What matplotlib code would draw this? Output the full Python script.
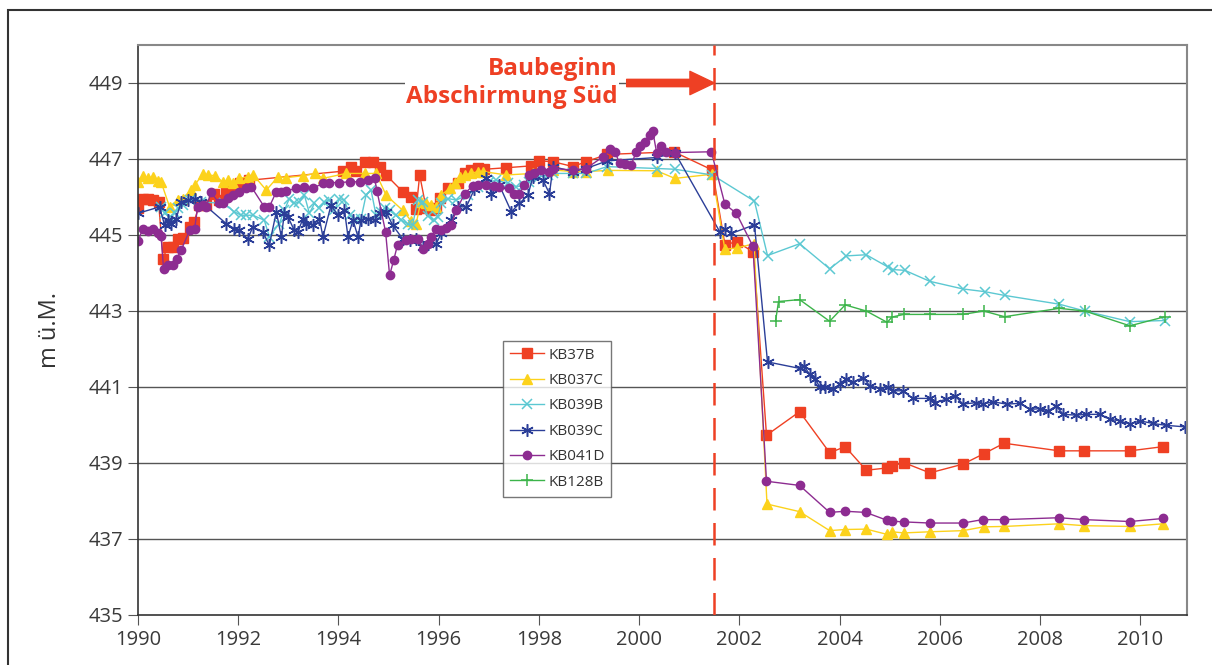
import matplotlib
matplotlib.use("Agg")
import matplotlib.pyplot as plt
from matplotlib.patches import Rectangle

plt.rcParams['font.family'] = ['Open Sans', 'DejaVu Sans']

# --- data (decimal year, m ü.M.) ---
kb37b_t = [1990.00, 1990.09, 1990.19, 1990.29, 1990.41, 1990.50, 1990.59, 1990.69, 1990.79, 1990.89,
           1991.03, 1991.12, 1991.22, 1991.35, 1991.52, 1991.62, 1991.76, 1991.87, 1992.04, 1992.22,
           1994.09, 1994.25, 1994.35, 1994.52, 1994.68, 1994.82, 1994.95, 1995.28, 1995.45, 1995.55,
           1995.62, 1995.75, 1995.85, 1995.95, 1996.02, 1996.18, 1996.38, 1996.52, 1996.65, 1996.78,
           1996.91, 1997.35, 1997.85, 1998.01, 1998.28, 1998.68, 1998.94, 1999.36, 2000.69, 2001.46,
           2001.71, 2001.95, 2002.28, 2002.54, 2003.20, 2003.80, 2004.11, 2004.53, 2004.95, 2005.04,
           2005.28, 2005.80, 2006.46, 2006.87, 2007.28, 2008.38, 2008.88, 2009.79, 2010.45]
kb37b_v = [445.70, 445.96, 445.94, 445.92, 445.88, 444.38, 444.69, 444.69, 444.90, 444.93,
           445.22, 445.35, 445.78, 445.78, 446.09, 445.92, 446.12, 446.16, 446.37, 446.44,
           446.68, 446.80, 446.68, 446.91, 446.93, 446.80, 446.58, 446.14, 446.01, 445.68,
           446.58, 445.70, 445.65, 445.70, 445.98, 446.23, 446.36, 446.62, 446.71, 446.77,
           446.73, 446.77, 446.82, 446.95, 446.93, 446.80, 446.93, 447.12, 447.19, 446.71,
           444.75, 444.82, 444.55, 439.73, 440.35, 439.27, 439.43, 438.81, 438.87, 438.92,
           439.01, 438.74, 438.97, 439.24, 439.52, 439.32, 439.32, 439.32, 439.43]

kb037c_t = [1990.00, 1990.09, 1990.19, 1990.29, 1990.39, 1990.46, 1990.63, 1990.79, 1990.89, 1991.06,
            1991.13, 1991.29, 1991.39, 1991.54, 1991.69, 1991.79, 1991.89, 1992.02, 1992.19, 1992.30,
            1992.56, 1992.79, 1992.96, 1993.29, 1993.54, 1993.69, 1994.15, 1994.52, 1994.75, 1994.95,
            1995.28, 1995.45, 1995.55, 1995.64, 1995.75, 1995.85, 1995.95, 1996.05, 1996.22, 1996.32,
            1996.42, 1996.52, 1996.65, 1996.78, 1996.88, 1997.35, 1997.88, 1998.28, 1998.68, 1998.94,
            1999.38, 2000.35, 2000.71, 2001.46, 2001.71, 2001.95, 2002.29, 2002.55, 2003.20, 2003.80,
            2004.11, 2004.53, 2004.95, 2005.04, 2005.28, 2005.80, 2006.46, 2006.87, 2007.28, 2008.38,
            2008.88, 2009.79, 2010.45]
kb037c_v = [446.40, 446.56, 446.49, 446.53, 446.42, 446.40, 445.74, 445.92, 445.96, 446.18,
            446.31, 446.60, 446.58, 446.56, 446.40, 446.44, 446.36, 446.49, 446.53, 446.58,
            446.18, 446.53, 446.51, 446.56, 446.62, 446.49, 446.62, 446.62, 446.62, 446.05,
            445.65, 445.37, 445.30, 445.86, 445.83, 445.78, 445.74, 446.05, 446.23, 446.36,
            446.52, 446.58, 446.62, 446.67, 446.67, 446.58, 446.62, 446.71, 446.67, 446.67,
            446.70, 446.69, 446.49, 446.60, 444.62, 444.66, 444.77, 437.92, 437.72, 437.22,
            437.25, 437.26, 437.12, 437.19, 437.16, 437.19, 437.22, 437.32, 437.33, 437.40,
            437.35, 437.33, 437.40]

kb039b_t = [1990.45, 1990.53, 1990.63, 1990.73, 1990.79, 1990.89, 1991.03, 1991.26, 1991.72, 1991.92,
            1992.06, 1992.16, 1992.29, 1992.52, 1992.62, 1992.82, 1992.92, 1993.02, 1993.12, 1993.22,
            1993.32, 1993.42, 1993.52, 1993.62, 1993.72, 1993.82, 1993.92, 1994.02, 1994.12, 1994.22,
            1994.32, 1994.45, 1994.55, 1994.65, 1994.75, 1994.85, 1994.92, 1995.02, 1995.15, 1995.25,
            1995.38, 1995.48, 1995.58, 1995.68, 1995.78, 1995.90, 1995.98, 1996.05, 1996.18, 1996.35,
            1996.58, 1996.78, 1997.01, 1997.15, 1997.38, 1997.55, 1997.71, 1997.81, 1998.01, 1998.18,
            1998.28, 1998.68, 1998.94, 1999.36, 2000.36, 2000.71, 2001.46, 2002.30, 2002.56, 2003.20,
            2003.80, 2004.13, 2004.53, 2004.96, 2005.06, 2005.30, 2005.80, 2006.46, 2006.89, 2007.29,
            2008.38, 2008.89, 2009.79, 2010.49]
kb039b_v = [445.75, 445.57, 445.48, 445.57, 445.70, 445.78, 445.92, 445.87, 445.83, 445.61,
            445.52, 445.52, 445.52, 445.39, 444.96, 445.30, 445.65, 445.96, 445.83, 445.87,
            446.05, 445.57, 445.83, 445.70, 445.87, 445.92, 445.65, 445.96, 445.92, 445.52,
            445.43, 445.43, 446.05, 446.18, 445.52, 445.61, 445.70, 445.65, 445.52, 445.39,
            445.30, 445.26, 445.92, 445.87, 445.50, 445.40, 445.48, 445.83, 445.96, 445.92,
            446.05, 446.27, 446.40, 446.44, 446.36, 446.27, 446.31, 446.40, 446.53, 446.58,
            446.62, 446.62, 446.62, 446.80, 446.75, 446.73, 446.58, 445.89, 444.46, 444.77,
            444.11, 444.45, 444.48, 444.16, 444.09, 444.07, 443.78, 443.58, 443.51, 443.41,
            443.18, 443.00, 442.72, 442.75]

kb039c_t = [1990.00, 1990.43, 1990.53, 1990.59, 1990.66, 1990.76, 1990.86, 1990.99, 1991.13, 1991.26,
            1991.76, 1991.92, 1992.02, 1992.19, 1992.29, 1992.49, 1992.62, 1992.76, 1992.86, 1992.92,
            1992.99, 1993.12, 1993.19, 1993.29, 1993.36, 1993.49, 1993.62, 1993.69, 1993.85, 1993.99,
            1994.12, 1994.19, 1994.29, 1994.39, 1994.45, 1994.58, 1994.72, 1994.82, 1994.95, 1995.08,
            1995.28, 1995.42, 1995.55, 1995.68, 1995.78, 1995.95, 1996.05, 1996.25, 1996.38, 1996.55,
            1996.71, 1996.95, 1997.05, 1997.21, 1997.45, 1997.61, 1997.78, 1997.88, 1998.08, 1998.21,
            1998.28, 1998.68, 1998.94, 1999.36, 2000.36, 2000.71, 2001.61, 2001.71, 2001.84, 2002.30,
            2002.56, 2003.20, 2003.28, 2003.40, 2003.51, 2003.60, 2003.70, 2003.87, 2004.00, 2004.13,
            2004.26, 2004.47, 2004.60, 2004.80, 2004.96, 2005.06, 2005.26, 2005.46, 2005.80, 2005.90,
            2006.13, 2006.30, 2006.46, 2006.73, 2006.86, 2007.06, 2007.33, 2007.60, 2007.79, 2007.99,
            2008.16, 2008.32, 2008.46, 2008.72, 2008.92, 2009.19, 2009.39, 2009.59, 2009.79, 2009.99,
            2010.25, 2010.52, 2010.90]
kb039c_v = [445.57, 445.74, 445.26, 445.39, 445.30, 445.43, 445.87, 445.92, 445.96, 445.87,
            445.30, 445.17, 445.12, 444.90, 445.21, 445.08, 444.73, 445.61, 444.95, 445.57,
            445.48, 445.12, 445.08, 445.43, 445.30, 445.26, 445.43, 444.95, 445.78, 445.52,
            445.65, 444.95, 445.39, 444.95, 445.39, 445.43, 445.39, 445.57, 445.61, 445.26,
            444.90, 444.86, 444.90, 444.69, 444.77, 444.77, 445.04, 445.39, 445.74, 445.74,
            446.20, 446.49, 446.09, 446.31, 445.61, 445.83, 446.05, 446.53, 446.44, 446.09,
            446.80, 446.67, 446.75, 446.95, 447.04, 447.17, 445.08, 445.15, 445.04, 445.27,
            441.66, 441.49, 441.56, 441.34, 441.21, 441.01, 440.99, 440.94, 441.08, 441.21,
            441.12, 441.25, 441.03, 440.96, 441.01, 440.90, 440.90, 440.70, 440.70, 440.59,
            440.68, 440.77, 440.55, 440.59, 440.55, 440.61, 440.55, 440.57, 440.41, 440.43,
            440.37, 440.50, 440.28, 440.26, 440.28, 440.28, 440.15, 440.11, 440.02, 440.11,
            440.04, 439.99, 439.95]

kb041d_t = [1990.00, 1990.09, 1990.19, 1990.29, 1990.39, 1990.46, 1990.51, 1990.59, 1990.69, 1990.77,
            1990.86, 1991.03, 1991.13, 1991.19, 1991.29, 1991.36, 1991.46, 1991.62, 1991.69, 1991.79,
            1991.89, 1992.02, 1992.16, 1992.26, 1992.52, 1992.62, 1992.76, 1992.86, 1992.96, 1993.16,
            1993.32, 1993.49, 1993.69, 1993.82, 1994.02, 1994.22, 1994.42, 1994.58, 1994.72, 1994.77,
            1994.94, 1995.02, 1995.10, 1995.18, 1995.35, 1995.45, 1995.58, 1995.68, 1995.78, 1995.85,
            1995.95, 1996.05, 1996.15, 1996.25, 1996.35, 1996.52, 1996.68, 1996.78, 1996.95, 1997.11,
            1997.21, 1997.41, 1997.51, 1997.61, 1997.71, 1997.81, 1997.91, 1998.05, 1998.21, 1998.28,
            1998.68, 1998.94, 1999.28, 1999.41, 1999.51, 1999.61, 1999.71, 1999.84, 1999.94, 2000.01,
            2000.11, 2000.21, 2000.27, 2000.35, 2000.44, 2000.54, 2000.71, 2001.44, 2001.71, 2001.94,
            2002.27, 2002.54, 2003.20, 2003.80, 2004.11, 2004.52, 2004.95, 2005.04, 2005.28, 2005.80,
            2006.46, 2006.85, 2007.28, 2008.38, 2008.88, 2009.79, 2010.45]
kb041d_v = [444.83, 445.15, 445.10, 445.17, 445.06, 444.98, 444.11, 444.20, 444.22, 444.38,
            444.60, 445.12, 445.17, 445.74, 445.78, 445.74, 446.12, 445.83, 445.83, 445.98,
            446.05, 446.14, 446.23, 446.27, 445.74, 445.74, 446.14, 446.14, 446.15, 446.24,
            446.27, 446.23, 446.36, 446.38, 446.38, 446.40, 446.40, 446.44, 446.49, 446.15,
            445.08, 443.94, 444.33, 444.75, 444.86, 444.90, 444.90, 444.64, 444.77, 444.95,
            445.17, 445.12, 445.19, 445.26, 445.65, 446.09, 446.30, 446.31, 446.31, 446.30,
            446.27, 446.23, 446.09, 446.09, 446.31, 446.58, 446.62, 446.71, 446.67, 446.75,
            446.71, 446.75, 447.06, 447.26, 447.19, 446.90, 446.88, 446.84, 447.19, 447.33,
            447.44, 447.63, 447.74, 447.15, 447.33, 447.19, 447.17, 447.19, 445.81, 445.57,
            444.70, 438.52, 438.41, 437.70, 437.73, 437.70, 437.49, 437.47, 437.45, 437.42,
            437.42, 437.51, 437.51, 437.56, 437.51, 437.46, 437.54]

kb128b_t = [2002.72, 2002.78, 2003.20, 2003.80, 2004.11, 2004.53, 2004.95, 2005.04, 2005.28, 2005.80,
            2006.46, 2006.87, 2007.29, 2008.38, 2008.89, 2009.79, 2010.49]
kb128b_v = [442.73, 443.25, 443.30, 442.73, 443.16, 443.00, 442.70, 442.84, 442.91, 442.91,
            442.91, 443.00, 442.85, 443.07, 443.00, 442.61, 442.85]

baubeginn = 2001.5
red = '#ee4024'

fig = plt.figure(figsize=(12.12, 6.65), dpi=100)
ax = fig.add_axes([138/1212, 1 - 615/665, (1187 - 138)/1212, (615 - 45)/665])

ax.plot(kb37b_t, kb37b_v, color='#ef4023', lw=1, marker='s', ms=6.5, label='KB37B')
ax.plot(kb037c_t, kb037c_v, color='#fcd21c', lw=1, marker='^', ms=7.5, label='KB037C')
ax.plot(kb039b_t, kb039b_v, color='#5cc8d2', lw=1, marker='x', ms=7, mew=1.1, label='KB039B')
ax.plot(kb039c_t, kb039c_v, color='#2b3e98', lw=1, marker=(6, 2, 0), ms=9, mew=1.1, label='KB039C')
ax.plot(kb041d_t, kb041d_v, color='#8d2c91', lw=1, marker='o', ms=6, label='KB041D')
ax.plot(kb128b_t, kb128b_v, color='#3cb44a', lw=1, marker='+', ms=9, mew=1.1, label='KB128B')

ax.set_xlim(1990, 2010.93)
ax.set_ylim(435, 450)
ax.set_xticks(range(1990, 2011, 2))
ax.set_yticks(range(435, 450, 2))
for v in range(437, 450, 2):
    ax.axhline(v, color='#555555', lw=1, zorder=0.5)

ax.axvline(baubeginn, color=red, lw=1.8, dashes=(9, 5), zorder=5)

ax.text(1999.57, 449.0, 'Baubeginn\nAbschirmung Süd', ha='right', va='center',
        color=red, fontsize=17.5, fontweight='bold', linespacing=1.2,
        bbox=dict(facecolor='white', edgecolor='none', pad=1), zorder=6)
ax.annotate('', xy=(baubeginn, 449.0), xytext=(1999.75, 449.0),
            arrowprops=dict(arrowstyle='simple,head_length=1.1,head_width=1.05,tail_width=0.33',
                            color=red, mutation_scale=16, shrinkA=0, shrinkB=0), zorder=6)

for s in ['left', 'bottom']:
    ax.spines[s].set_color('#333333')
    ax.spines[s].set_linewidth(1.2)
for s in ['top', 'right']:
    ax.spines[s].set_color('#888888')
    ax.spines[s].set_linewidth(1.5)

ax.tick_params(axis='both', direction='out', length=7, color='#555555',
               labelcolor='#3a3a3a', labelsize=14.5)
ax.set_ylabel('m ü.M.', fontsize=17, color='#333333')
ax.yaxis.set_label_coords((62 - 138)/1049, 0.5)

leg = ax.legend(loc='upper left', bbox_to_anchor=(0.348, 0.481), fontsize=11,
                frameon=True, fancybox=False, edgecolor='#555555', handlelength=2.2,
                handletextpad=0.3, labelspacing=0.68, borderpad=0.45, borderaxespad=0)
leg.get_frame().set_linewidth(1)
for t in leg.get_texts():
    t.set_color('#333333')

fig.add_artist(Rectangle((8/1212, -0.05), 1.2, 1.05 - 10/665, transform=fig.transFigure,
                         fill=False, edgecolor='#333333', lw=1.5))

fig.savefig('out.png', dpi=100)
